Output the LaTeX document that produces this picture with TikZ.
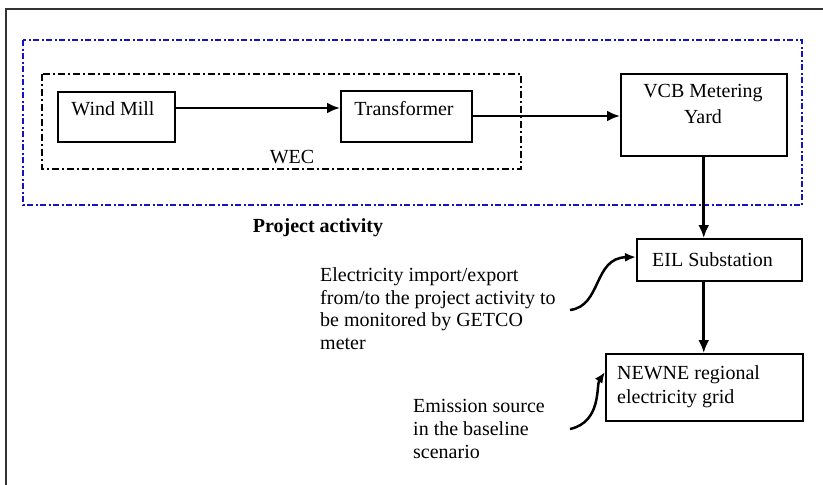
\documentclass[tikz,border=0pt]{standalone}
\usepackage{fontspec}
\setmainfont{Liberation Serif}
\usetikzlibrary{arrows.meta}
\definecolor{projblue}{RGB}{20,20,190}
\begin{document}
\begin{tikzpicture}[x=1pt,y=-1pt,
  box/.style={draw=black, line width=1.5pt, inner sep=0pt, anchor=north west},
  txt/.style={inner sep=0pt, font=\fontsize{20}{24}\selectfont},
  arr/.style={line width=2.8pt, -{Latex[length=13pt,width=11pt]}},
  curv/.style={line width=2.5pt, -{Latex[length=11pt,width=9pt]}},
  projline/.style={draw=projblue, line width=2.6pt, dash pattern=on 6pt off 2.5pt on 2pt off 2.5pt},
  wecline/.style={draw=black, line width=2.6pt, dash pattern=on 7pt off 3pt on 2pt off 3pt}]
\useasboundingbox (0,0) rectangle (823,485);
\fill[white] (0,0) rectangle (823,485);
\draw[line width=1.5pt, draw=black!80] (6,495) -- (6,9) -- (830,9);
% boundaries
\draw[projline] (23,40) rectangle (802,205);
\draw[wecline] (42,74) rectangle (521,169);
% boxes
\node[box, minimum width=117pt, minimum height=50pt] (wm) at (57,91) {};
\node[box, minimum width=131pt, minimum height=51pt] (tr) at (340,90) {};
\node[box, minimum width=166pt, minimum height=82pt] (vcb) at (620,73) {};
\node[box, minimum width=165pt, minimum height=42pt] (eil) at (636,238) {};
\node[box, minimum width=197pt, minimum height=67pt] (newne) at (605,353) {};
% texts
\node[txt, anchor=base] (twm) at (113,115) {Wind Mill};
\node[txt, anchor=base] (ttr) at (404,115) {Transformer};
\node[txt, anchor=base] (tvcb1) at (703,97) {VCB Metering};
\node[txt, anchor=base] (tvcb2) at (703,123) {Yard};
\node[txt, anchor=base] (twec) at (292,163) {WEC};
\node[txt, anchor=base, font=\fontsize{20}{24}\selectfont\bfseries] (tproj) at (318,232) {Project activity};
\node[txt, anchor=base west] (teil) at (652,266) {EIL Substation};
\node[txt, anchor=base west] (te1) at (320,281) {Electricity import/export};
\node[txt, anchor=base west] (te2) at (320,304) {from/to the project activity to};
\node[txt, anchor=base west] (te3) at (320,326) {be monitored by GETCO};
\node[txt, anchor=base west] (te4) at (320,349) {meter};
\node[txt, anchor=base west] (tn1) at (617,379) {NEWNE regional};
\node[txt, anchor=base west] (tn2) at (617,403) {electricity grid};
\node[txt, anchor=base west] (tm1) at (413,412) {Emission source};
\node[txt, anchor=base west] (tm2) at (413,435) {in the baseline};
\node[txt, anchor=base west] (tm3) at (413,458) {scenario};
% connectors
\draw[arr] (wm.east |- 0,108) -- (tr.west |- 0,108);
\draw[arr] (tr.east |- 0,116) -- (vcb.west |- 0,116);
\draw[arr] (vcb.south) -- (vcb.south |- eil.north);
\draw[arr] (vcb.south |- eil.south) -- (vcb.south |- newne.north);
\coordinate (c1) at (570,310);
\coordinate (c2) at (570,429);
\draw[curv] (c1) .. controls (602,306) and (593,258) .. (eil.west |- 0,257);
\draw[curv] (c2) .. controls (602,422) and (596,385) .. (newne.west |- 0,372);
\end{tikzpicture}
\end{document}
